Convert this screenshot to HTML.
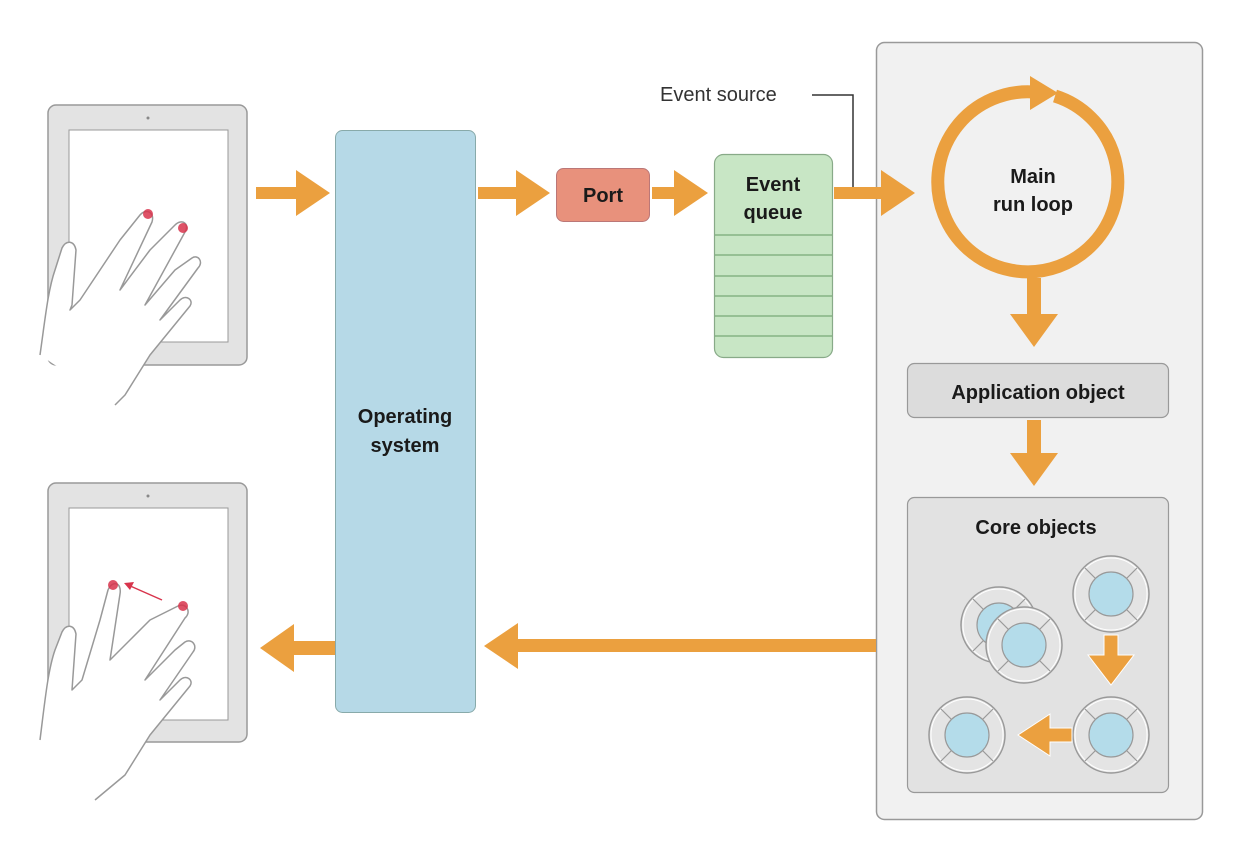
<!DOCTYPE html>
<html><head><meta charset="utf-8"><style>
html,body{margin:0;padding:0;background:#fff}
svg{display:block}
text{font-family:"Liberation Sans",sans-serif;font-weight:bold;fill:#1a1a1a}
</style></head><body>
<svg width="1236" height="842" viewBox="0 0 1236 842" xmlns="http://www.w3.org/2000/svg">
<defs>
<g id="obj">
<circle r="38" fill="#e4e4e4" stroke="#999" stroke-width="1.5"/>
<circle r="36" fill="none" stroke="#fff" stroke-width="1"/>
<line x1="-26" y1="-26" x2="-14" y2="-14" stroke="#999" stroke-width="1.2"/>
<line x1="26" y1="-26" x2="14" y2="-14" stroke="#999" stroke-width="1.2"/>
<line x1="-26" y1="26" x2="-14" y2="14" stroke="#999" stroke-width="1.2"/>
<line x1="26" y1="26" x2="14" y2="14" stroke="#999" stroke-width="1.2"/>
<circle r="22" fill="#b4dcea" stroke="#999" stroke-width="1.2"/>
</g>
</defs>
<!-- right panel -->
<rect x="876.5" y="42.5" width="326" height="777" rx="8" fill="#f1f1f1" stroke="#999" stroke-width="1.5"/>

<!-- tablets -->
<g>
<rect x="48" y="105" width="199" height="260" rx="8" fill="#e3e3e3" stroke="#999" stroke-width="1.5"/>
<rect x="69" y="130" width="159" height="212" fill="#fff" stroke="#999" stroke-width="1"/>
<circle cx="148" cy="118" r="1.5" fill="#888"/>
<path d="M40,355 C45,320 48,290 55,270 L62,248 C66,240 74,240 76,250 L72,305 L70,310 L80,300 L120,240 L140,215 C146,208 155,212 152,222 L120,290 L150,250 L175,225 C182,218 190,224 185,232 L145,305 L175,270 L192,258 C198,254 204,262 198,268 L160,320 L180,300 C186,294 194,300 190,306 L150,355 L125,395 L115,405" fill="#fff" stroke="#999" stroke-width="1.5" stroke-linejoin="round"/>
<circle cx="148" cy="214" r="5" fill="#d8344c" opacity=".85"/>
<circle cx="183" cy="228" r="5" fill="#d8344c" opacity=".85"/>
</g>
<g>
<rect x="48" y="483" width="199" height="259" rx="8" fill="#e3e3e3" stroke="#999" stroke-width="1.5"/>
<rect x="69" y="508" width="159" height="212" fill="#fff" stroke="#999" stroke-width="1"/>
<circle cx="148" cy="496" r="1.5" fill="#888"/>
<path d="M40,740 C45,700 48,670 55,650 L62,632 C66,624 74,624 76,634 L72,690 L82,680 L100,620 L108,590 C112,580 122,582 120,594 L110,660 L150,620 L178,606 C186,602 192,612 185,618 L145,680 L175,650 L185,642 C192,638 198,646 193,652 L160,700 L180,680 C186,674 194,680 190,686 L150,735 L125,775 L95,800" fill="#fff" stroke="#999" stroke-width="1.5" stroke-linejoin="round"/>
<circle cx="113" cy="585" r="5" fill="#d8344c" opacity=".85"/>
<circle cx="183" cy="606" r="5" fill="#d8344c" opacity=".85"/>
<line x1="162" y1="600" x2="128" y2="585" stroke="#d8344c" stroke-width="1.5"/>
<path d="M124,583 L134,582 L130,590 Z" fill="#d8344c"/>
</g>

<!-- OS -->
<rect x="335.5" y="130.5" width="140" height="582" rx="7" fill="#b6d9e7" stroke="#8aa" stroke-width="1"/>
<text x="405" y="423" font-size="20" text-anchor="middle">Operating</text>
<text x="405" y="452" font-size="20" text-anchor="middle">system</text>

<!-- Port -->
<rect x="556.5" y="168.5" width="93" height="53" rx="7" fill="#e8917c" stroke="#b77" stroke-width="1"/>
<text x="603" y="202" font-size="20" text-anchor="middle">Port</text>

<!-- queue -->
<rect x="714.5" y="154.5" width="118" height="203" rx="9" fill="#c8e6c5" stroke="#8a8" stroke-width="1.2"/>
<g stroke="#7a7" stroke-width="1.2">
<line x1="715" y1="235" x2="832" y2="235"/><line x1="715" y1="255" x2="832" y2="255"/>
<line x1="715" y1="276" x2="832" y2="276"/><line x1="715" y1="296" x2="832" y2="296"/>
<line x1="715" y1="316" x2="832" y2="316"/><line x1="715" y1="336" x2="832" y2="336"/>
</g>
<text x="773" y="191" font-size="20" text-anchor="middle">Event</text>
<text x="773" y="219" font-size="20" text-anchor="middle">queue</text>

<!-- app object -->
<rect x="907.5" y="363.5" width="261" height="54" rx="7" fill="#dcdcdc" stroke="#999" stroke-width="1.2"/>
<text x="1038" y="399" font-size="20" text-anchor="middle">Application object</text>

<!-- core objects -->
<rect x="907.5" y="497.5" width="261" height="295" rx="7" fill="#e2e2e2" stroke="#999" stroke-width="1.2"/>
<text x="1036" y="534" font-size="20" text-anchor="middle">Core objects</text>
<use href="#obj" x="999" y="625"/>
<use href="#obj" x="1024" y="645"/>
<use href="#obj" x="1111" y="594"/>
<use href="#obj" x="1111" y="735"/>
<use href="#obj" x="967" y="735"/>

<!-- event source -->
<text x="660" y="101" font-size="20" style="font-weight:normal;fill:#333">Event source</text>
<path d="M812,95 H853 V193" fill="none" stroke="#333" stroke-width="1.5"/>

<!-- arrows -->
<g fill="#eba03f">
<path d="M256,187 h40 v-17 l34,23 l-34,23 v-17 h-40 Z"/>
<path d="M478,187 h38 v-17 l34,23 l-34,23 v-17 h-38 Z"/>
<path d="M652,187 h22 v-17 l34,23 l-34,23 v-17 h-22 Z"/>
<path d="M834,187 h47 v-17 l34,23 l-34,23 v-17 h-47 Z"/>
<path d="M876,639 v13 h-358 v17 l-34,-23 l34,-23 v16 Z"/>
<path d="M335,641 v14 h-41 v17 l-34,-24 l34,-24 v17 Z"/>
<path d="M1027,278 h14 v36 h17 l-24,33 l-24,-33 h17 Z"/>
<path d="M1027,420 h14 v33 h17 l-24,33 l-24,-33 h17 Z"/>
<path d="M1104,635 h14 v20 h16 l-23,30 l-23,-30 h16 Z" stroke="#fff" stroke-width="1"/>
<path d="M1072,728 v14 h-22 v14 l-32,-21 l32,-21 v14 Z" stroke="#fff" stroke-width="1"/>
</g>
<!-- loop -->
<path d="M1055,96 A90,90 0 1 1 1034,92" fill="none" stroke="#eba03f" stroke-width="13"/>
<path d="M1030,76 l28,17 l-28,17 Z" fill="#eba03f"/>
<text x="1033" y="183" font-size="20" text-anchor="middle">Main</text>
<text x="1033" y="211" font-size="20" text-anchor="middle">run loop</text>
</svg>
</body></html>
